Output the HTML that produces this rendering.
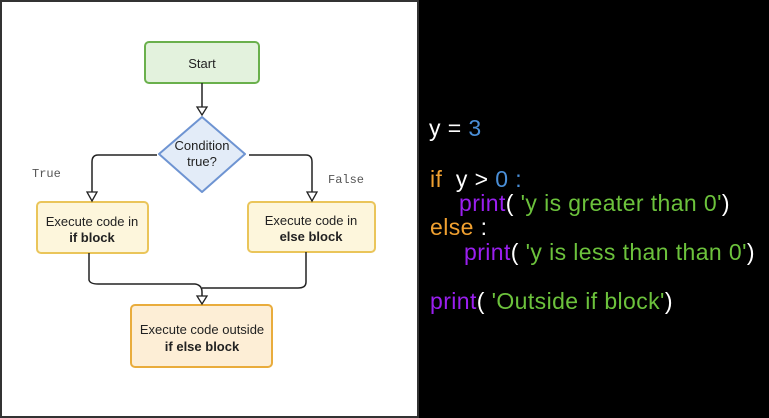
<!DOCTYPE html>
<html><head><meta charset="utf-8"><style>
html,body{margin:0;padding:0;background:#000;width:769px;height:418px;overflow:hidden}
.code{position:absolute;font-family:"Liberation Sans",sans-serif;font-size:23px;white-space:pre;letter-spacing:0.4px}
.o{color:#f0a030}.b{color:#4a8fd8}.p{color:#9a1ff0}.g{color:#6cc23c}.w{color:#fff}
</style></head><body>
<svg width="769" height="418" style="position:absolute;left:0;top:0">
<rect x="1" y="1" width="417" height="416" fill="#fff" stroke="#333" stroke-width="2"/>
<rect x="145" y="42" width="114" height="41" rx="4" fill="#e3f2dd" stroke="#6ab04c" stroke-width="2"/>
<text x="202" y="68" font-family="Liberation Sans" font-size="13" text-anchor="middle" fill="#222">Start</text>
<polygon points="202,117 245,154 202,192 159,154" fill="#e3ecf8" stroke="#6e94d2" stroke-width="2" stroke-linejoin="round"/>
<text x="202" y="150" font-family="Liberation Sans" font-size="13" text-anchor="middle" fill="#222">Condition</text>
<text x="202" y="166" font-family="Liberation Sans" font-size="13" text-anchor="middle" fill="#222">true?</text>
<rect x="37" y="202" width="111" height="51" rx="4" fill="#fdf6dc" stroke="#eac55a" stroke-width="2"/>
<text x="92" y="226" font-family="Liberation Sans" font-size="13" text-anchor="middle" fill="#222">Execute code in</text>
<text x="92" y="242" font-family="Liberation Sans" font-size="13" font-weight="bold" text-anchor="middle" fill="#222">if block</text>
<rect x="248" y="202" width="127" height="50" rx="4" fill="#fdf6dc" stroke="#eac55a" stroke-width="2"/>
<text x="311" y="225" font-family="Liberation Sans" font-size="13" text-anchor="middle" fill="#222">Execute code in</text>
<text x="311" y="241" font-family="Liberation Sans" font-size="13" font-weight="bold" text-anchor="middle" fill="#222">else block</text>
<rect x="131" y="305" width="141" height="62" rx="4" fill="#fdeed6" stroke="#e9ac3c" stroke-width="2"/>
<text x="202" y="334" font-family="Liberation Sans" font-size="13" text-anchor="middle" fill="#222">Execute code outside</text>
<text x="202" y="351" font-family="Liberation Sans" font-size="13" font-weight="bold" text-anchor="middle" fill="#222">if else block</text>
<g fill="none" stroke="#222" stroke-width="1.5">
<path d="M202,83 V108"/>
<path d="M157,155 H98 Q92,155 92,162 V192"/>
<path d="M249,155 H306 Q312,155 312,162 V192"/>
<path d="M89,253 V280 Q90,284 98,284 H195 Q202,285 202,292 V296"/>
<path d="M306,252 V282 Q306,288 298,288 H202"/>
</g>
<g fill="#fff" stroke="#222" stroke-width="1.3">
<polygon points="197,107 207,107 202,115"/>
<polygon points="87,192 97,192 92,201"/>
<polygon points="307,192 317,192 312,201"/>
<polygon points="197,296 207,296 202,304"/>
</g>
<text x="32" y="177" font-family="Liberation Mono" font-size="12" fill="#555">True</text>
<text x="328" y="183" font-family="Liberation Mono" font-size="12" fill="#555">False</text>
</svg>
<div class="code w" style="left:429px;top:115px">y = <span class="b">3</span></div>
<div class="code" style="left:430px;top:166px"><span class="o">if</span><span class="w">  y &gt; </span><span class="b">0 :</span></div>
<div class="code" style="left:459px;top:190px"><span class="p">print</span><span class="w">(</span><span class="g"> 'y is greater than 0'</span><span class="w">)</span></div>
<div class="code" style="left:430px;top:214px"><span class="o">else</span><span class="w"> :</span></div>
<div class="code" style="left:464px;top:239px"><span class="p">print</span><span class="w">(</span><span class="g"> 'y is less than than 0'</span><span class="w">)</span></div>
<div class="code" style="left:430px;top:288px"><span class="p">print</span><span class="w">(</span><span class="g"> 'Outside if block'</span><span class="w">)</span></div>
</body></html>
